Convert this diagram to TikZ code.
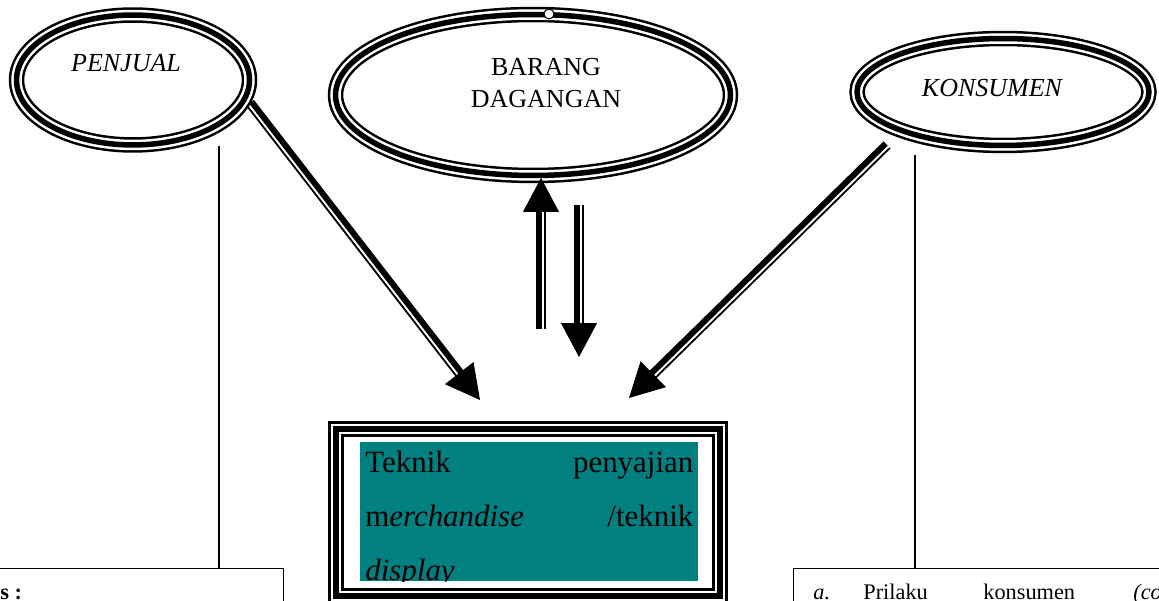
\documentclass[tikz,border=0pt]{standalone}
\usepackage{fontspec}
\setmainfont{Liberation Serif}
\usepackage{xcolor}
\usepackage{tikz}
\usetikzlibrary{shapes}
\usetikzlibrary{arrows.meta}
\usetikzlibrary{positioning}
\usetikzlibrary{calc}
\definecolor{dispbg}{HTML}{008080}
\newcommand{\ovalfont}{\fontsize{14.8}{18.7}\selectfont}
\newcommand{\dispfont}{\fontsize{17.6}{30.7}\selectfont}
\newcommand{\notefont}{\fontsize{12.7}{15}\selectfont}

\begin{document}
\begin{tikzpicture}[x=0.02cm, y=0.02cm,
  trip/.style={
    draw, line width=0.31cm,
    postaction={draw=white, line width=0.21cm},
    postaction={draw=black, line width=0.11cm}},
  oval/.style 2 args={
    ellipse, trip, inner sep=0pt,
    minimum width=#1, minimum height=#2},
  conn/.style={
    line width=0.7pt},
  shaftk/.style={
    line width=0.12cm, shorten >=0.5cm},
  shaftn/.style={
    line width=0.036cm, shorten >=0.5cm},
  tip/.style={
    line width=0.5pt,
    -{Triangle[length=0.68cm,width=0.72cm]}},
]

  \clip (0,0) rectangle (1159,601);

  % Ellipses
  \node[oval={4.66cm}{2.6cm}] (penjual) at (133,521) {};
  \node[font=\ovalfont\itshape] (pjtxt) at (126,538) {PENJUAL};

  \node[oval={7.9cm}{3.22cm}] (barang) at (533,506) {};
  \node[align=center, font=\ovalfont] (brtxt) at (546,518) {BARANG\\DAGANGAN};
  \node[circle, draw, fill=white, inner sep=0pt, minimum size=0.2cm,
        line width=0.6pt] (brmark) at (549,587) {};

  \node[oval={5.84cm}{2.14cm}] (konsumen) at (1003,509) {};
  \node[font=\ovalfont\itshape] (kstxt) at (992,513) {KONSUMEN};

  % Display box
  \node[trip, inner sep=0pt, minimum width=7.68cm, minimum height=3.34cm]
      (disp) at (528,88.5) {};
  \node[fill=dispbg, inner sep=0pt, minimum width=6.76cm, minimum height=2.78cm]
      (dispbg) at (529,89.5) {};
  \begin{scope}
    \clip (dispbg.south west) rectangle (dispbg.north east);
    \node[anchor=north west, inner sep=0pt, text width=6.56cm, align=left,
          font=\dispfont] (disptxt) at (365,150)
        {Teknik\hfill penyajian\\
         m\textit{erchandise}\hfill /teknik\\
         \textit{display}};
  \end{scope}
  \draw[conn] ($(disp.south)+(-5,0)$) -- ++(0,-20);

  % Arrow ends
  \coordinate (pjout) at (250,498);
  \coordinate (pjtip) at (480,201);
  \coordinate (ksout) at (887,456);
  \coordinate (kstip) at (629,203);
  \coordinate (upfoot) at (541,272);
  \coordinate (uptip) at (541,423);
  \coordinate (dnfoot) at (579,396);
  \coordinate (dntip) at (579,244);

  \foreach \from/\to/\k in {pjout/pjtip/90, ksout/kstip/-90,
                            upfoot/uptip/90, dnfoot/dntip/-90} {
    \pgfmathsetmacro{\kk}{-\k}
    \draw[shaftk] ($(\from)!0.04cm!\k:(\to)$) -- ($(\to)!0.04cm!\kk:(\from)$);
    \draw[shaftn] ($(\from)!0.082cm!\kk:(\to)$) -- ($(\to)!0.082cm!\k:(\from)$);
    \draw[tip] ($(\to)!0.68cm!(\from)$) -- (\to);
  }

  % Bottom boxes
  \node[draw, conn, inner sep=0pt, minimum width=6.08cm, minimum height=1.6cm,
        anchor=north east] (leftbox) at (284,33) {};
  \node[draw, conn, inner sep=0pt, minimum width=8cm, minimum height=1.6cm,
        anchor=north west] (rightbox) at (793,33) {};

  \coordinate (pjdrop) at (219,455);
  \coordinate (ksdrop) at (915,446);
  \draw[conn] (pjdrop) -- (pjdrop |- leftbox.north);
  \draw[conn] (ksdrop) -- (ksdrop |- rightbox.north);

  \node[anchor=base west, inner sep=0pt, font=\notefont\bfseries]
      (lefttxt) at (0,1) {s :};
  \foreach \xx/\word in {813/\textit{a.}, 863/Prilaku, 983/konsumen,
                         1133/\textit{(co}} {
    \node[anchor=base west, inner sep=0pt, font=\notefont] at (\xx,1) {\word};
  }

\end{tikzpicture}
\end{document}
